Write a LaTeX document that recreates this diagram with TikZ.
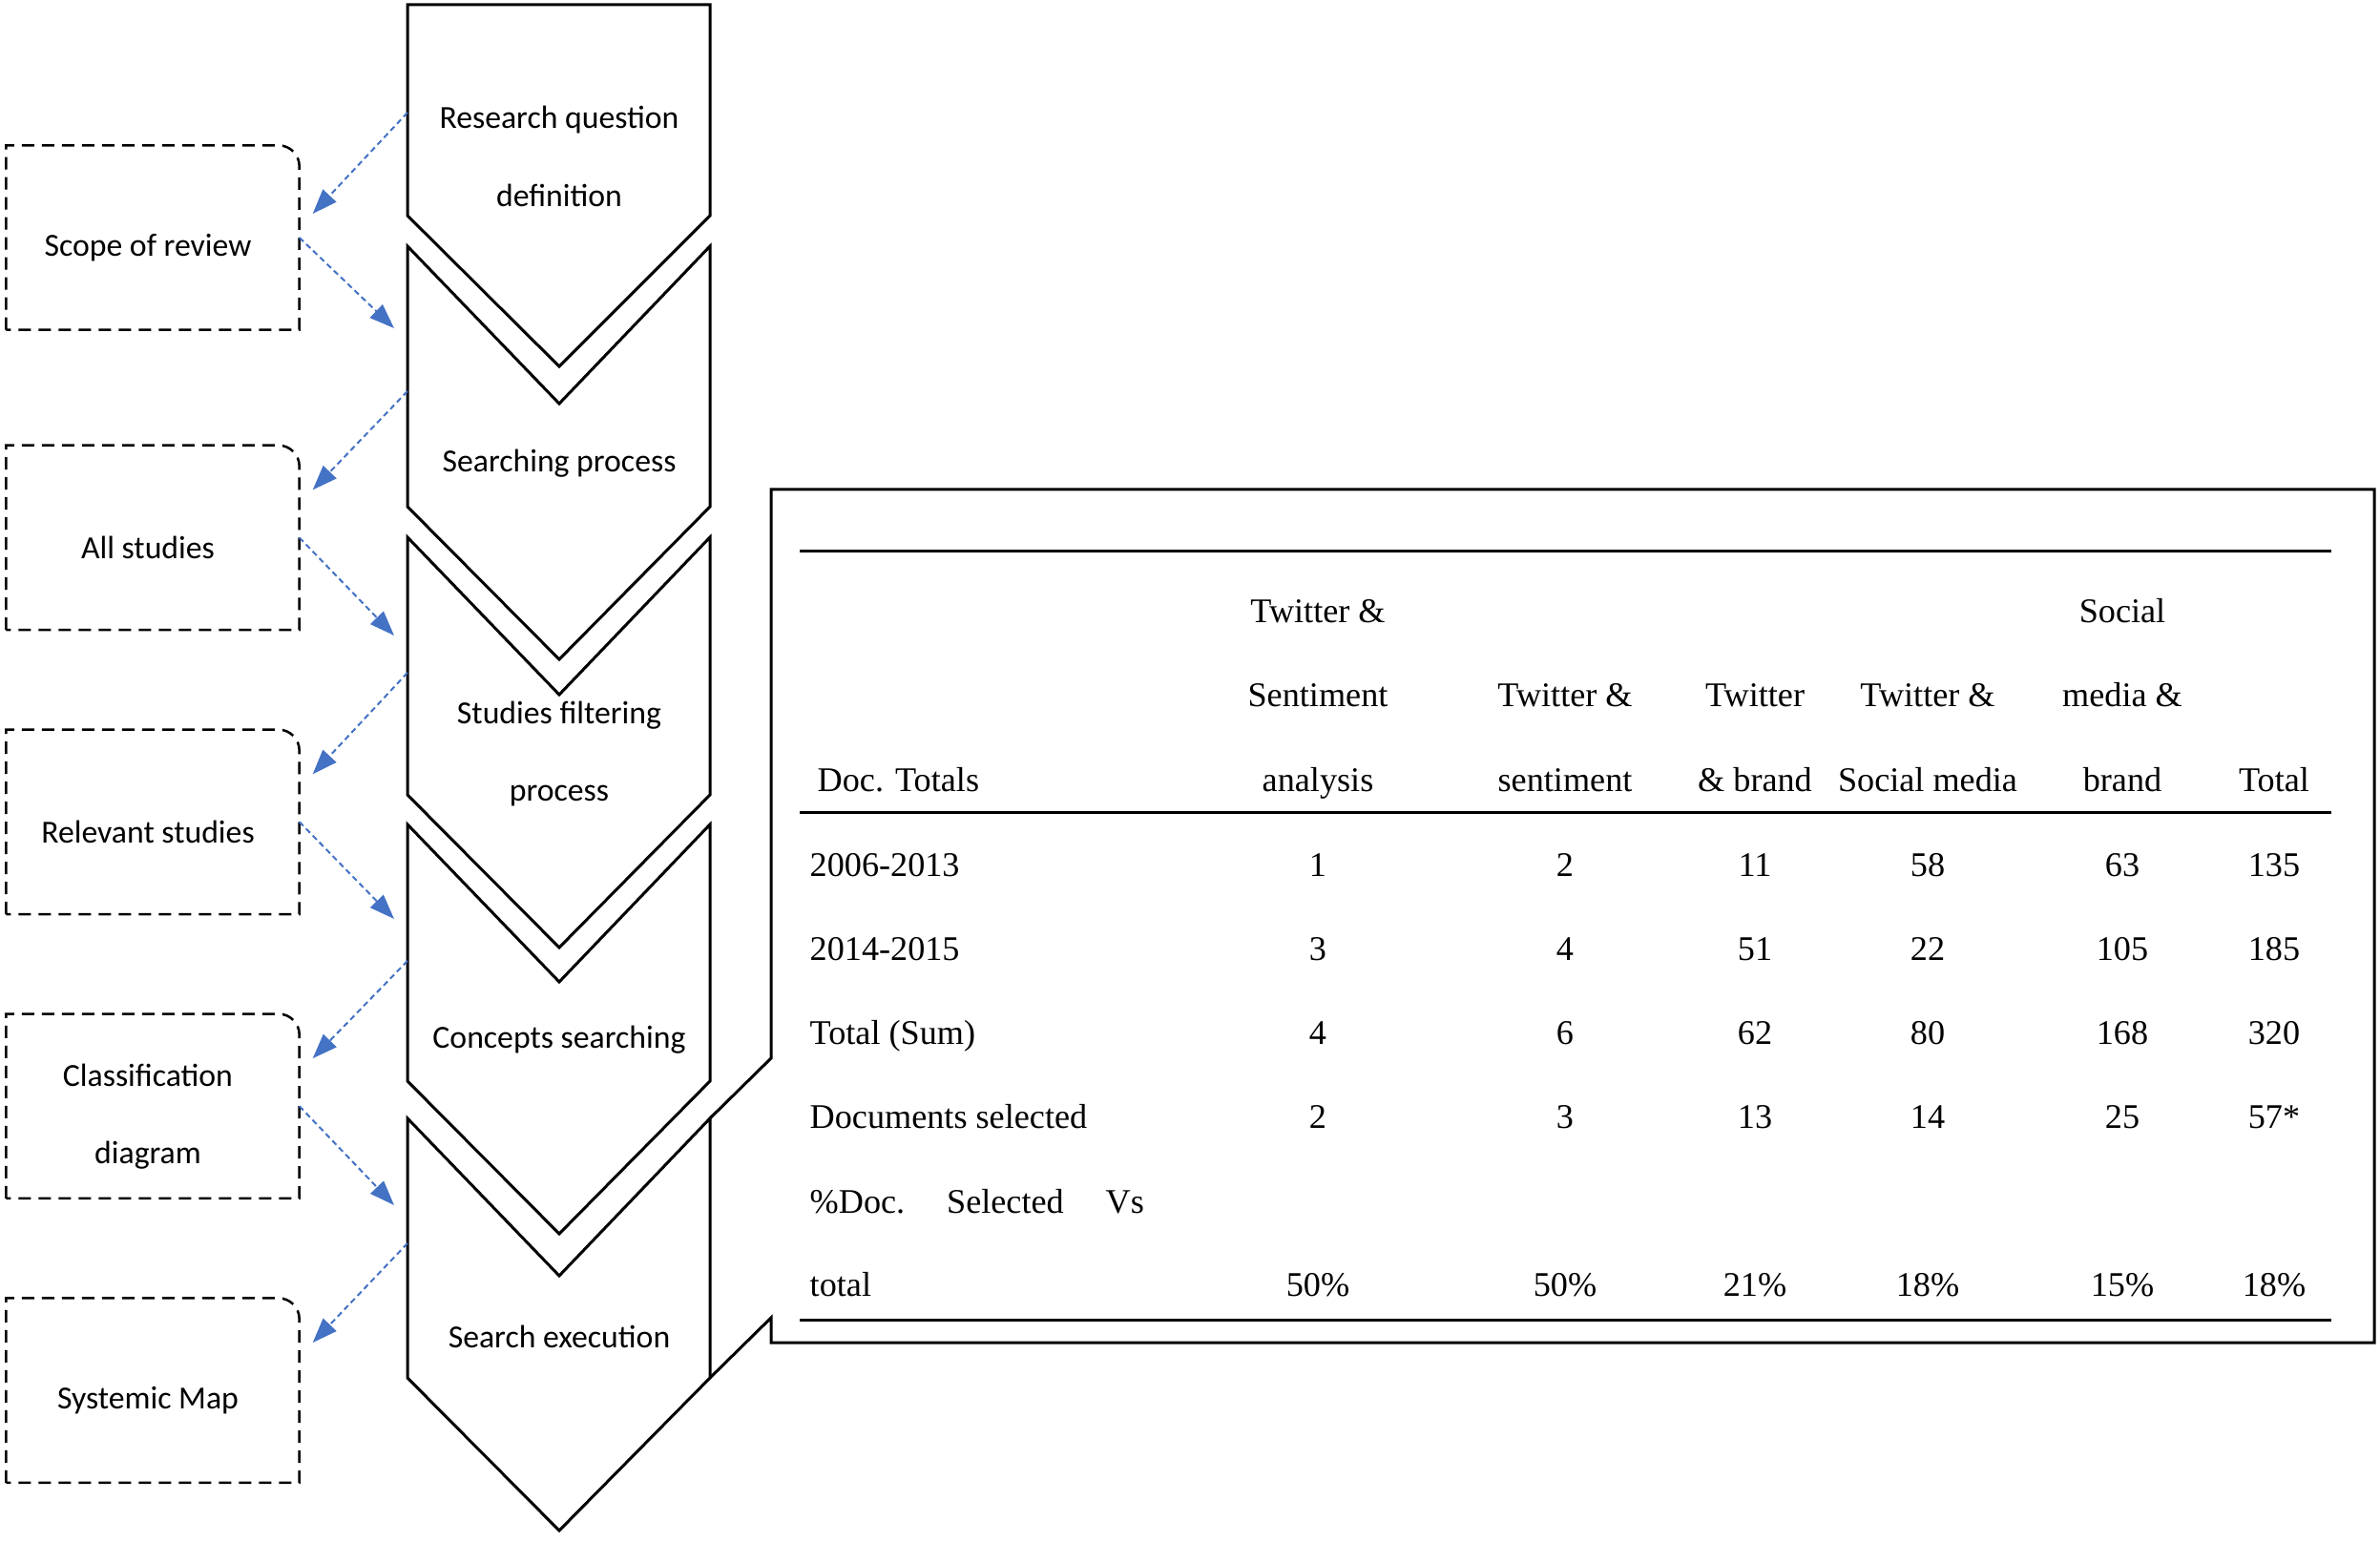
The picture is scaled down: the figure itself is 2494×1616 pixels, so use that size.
\documentclass[tikz,border=0pt]{standalone}
\usepackage{fontspec}
\setmainfont{Liberation Serif}
\newfontfamily\calibri{Carlito}
\usetikzlibrary{arrows.meta,positioning,calc}
\definecolor{FlowBlue}{HTML}{4472C4}
\begin{document}
\begin{tikzpicture}[
  x=0.1mm,y=-0.1mm,
  node distance=10.45mm,
  chev/.style={draw=black,line width=0.3mm,fill=white,line join=miter},
  stagetext/.style={font=\calibri\fontsize{9.6}{23.3}\selectfont,align=center,inner sep=0pt},
  mapbox/.style={font=\calibri\fontsize{9.6}{23.3}\selectfont,align=center,minimum width=30.6mm,minimum height=19.2mm,inner sep=0pt},
  mapline/.style={line width=0.25mm,dash pattern=on 1.3mm off 0.8mm},
  flow/.style={-{Triangle[length=2.6mm,width=1.9mm]},draw=FlowBlue,line width=0.2mm,dash pattern=on 0.6mm off 0.4mm},
  rule/.style={line width=0.3mm,line join=miter},
  cell/.style={font=\fontsize{10.3}{12}\selectfont,anchor=base,inner sep=0pt},
  rowlab/.style={cell,anchor=base west}
]
\useasboundingbox (0,0) rectangle (2494,1616);

\draw[rule] (744,1172) -- (808,1109) -- (808,513) -- (2488,513) -- (2488,1407) -- (808,1407) -- (808,1381) -- (744,1444);

\draw[chev] (427,5) -- (744,5) -- (744,226) -- (586,384) -- (427,226) -- cycle;
\foreach \t/\b in {258/531,563/833,864/1133,1172/1444}
  \draw[chev] (427,\t) -- (586,\t+165) -- (744,\t) -- (744,\b) -- (586,\b+160) -- (427,\b) -- cycle;

\node[stagetext] (rqdef) at (586,164) {Research question\\definition};
\node[stagetext] (search) at (586,486) {Searching process};
\node[stagetext] (filter) at (586,790) {Studies filtering\\process};
\node[stagetext] (concept) at (586,1090) {Concepts searching};
\node[stagetext] (exec) at (586,1401) {Search execution};

\node[mapbox] (scope) at (155,260) {Scope of review};
\node[mapbox,below=12.1mm of scope] (allst) {All studies};
\node[mapbox,below=of allst] (relst) {Relevant studies};
\node[mapbox,below=of relst] (classd) {Classification\\diagram};
\node[mapbox,below=of classd] (sysmap) {Systemic Map};
\foreach \b in {scope,allst,relst,classd,sysmap}
  \draw[mapline] ([shift={(5,-11)}]\b.south west) -- ([shift={(5,-11)}]\b.north west) [rounded corners=2.2mm]
    -- ([shift={(5,-11)}]\b.north east) [sharp corners] -- ([shift={(5,-11)}]\b.south east) -- cycle;

\coordinate (q1) at (427,118);
\coordinate (q2) at (427,410);
\coordinate (q3) at (427,705);
\coordinate (q4) at (427,1007);
\coordinate (q5) at (427,1303);
\coordinate (r1) at (413,344);
\coordinate (r2) at (413,666);
\coordinate (r3) at (413,963);
\coordinate (r4) at (413,1263);
\foreach \b/\o [count=\i] in {scope/-36,allst/-61,relst/-61,classd/-61,sysmap/-61}
  \draw[flow] (q\i) -- ([shift={(19,\o)}]\b.east);
\foreach \b [count=\i] in {scope,allst,relst,classd}
  \draw[flow] ([shift={(5,-11)}]\b.east) -- (r\i);

\draw[rule] (838,578) -- (2443,578);
\draw[rule] (838,852) -- (2443,852);
\draw[rule] (838,1383) -- (2443,1383);

\node[rowlab] (doctot) at (856,830) {Doc. Totals};
\foreach \x/\y/\t [count=\k] in {1381/653/Twitter \&,1381/741/Sentiment,1381/830/analysis,
    1640/741/Twitter \&,1640/830/sentiment,1839/741/Twitter,1839/830/\& brand,
    2020/741/Twitter \&,2020/830/Social media,2224/653/Social,2224/741/media \&,
    2224/830/brand,2383/830/Total}
  \node[cell] (head\k) at (\x,\y) {\t};

\def\colx{{1381,1640,1839,2020,2224,2383}}
\foreach \lab/\vals [count=\r] in {2006-2013/{1,2,11,58,63,135},2014-2015/{3,4,51,22,105,185},
    Total (Sum)/{4,6,62,80,168,320},Documents selected/{2,3,13,14,25,57*}}{
  \node[rowlab] (lab\r) at (848,919+88*\r-88) {\lab};
  \foreach \v [count=\c] in \vals {
    \pgfmathsetmacro\cx{\colx[\c-1]}
    \node[cell] (cell-\r-\c) at (\cx,919+88*\r-88) {\v};
  }
}
\node[rowlab] (pctlab) at (848,1272) {\%Doc.\hspace{12.5pt}Selected\hspace{12.5pt}Vs};
\node[rowlab] (pcttot) at (848,1359) {total};
\foreach \v [count=\c] in {50\%,50\%,21\%,18\%,15\%,18\%}{
  \pgfmathsetmacro\cx{\colx[\c-1]}
  \node[cell] (pct\c) at (\cx,1359) {\v};
}
\end{tikzpicture}
\end{document}
